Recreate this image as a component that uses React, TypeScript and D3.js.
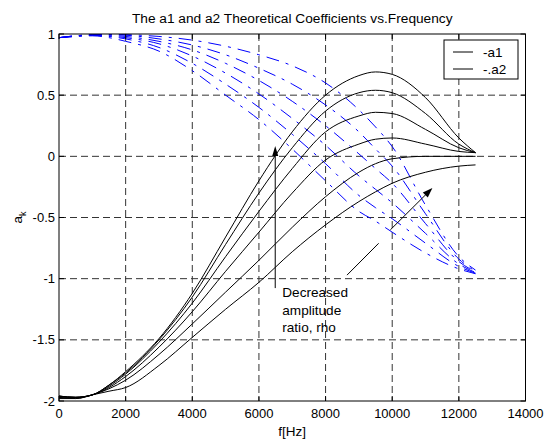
import React from 'react';
import * as d3 from 'd3';

const freqs = [0, 500, 1000, 1500, 2000, 3000, 4000, 5000, 6000, 7000, 8000, 9000, 9500, 10000, 11000, 12000, 12500];

const a1Curve1 = [-1.96, -1.97, -1.95, -1.87, -1.76, -1.49, -1.12, -0.66, -0.2, 0.2, 0.5, 0.66, 0.69, 0.67, 0.48, 0.15, 0.03];
const a1Curve2 = [-1.96, -1.97, -1.95, -1.87, -1.77, -1.5, -1.15, -0.72, -0.3, 0.07, 0.37, 0.52, 0.54, 0.52, 0.35, 0.1, 0.03];
const a1Curve3 = [-1.96, -1.97, -1.95, -1.88, -1.78, -1.52, -1.2, -0.82, -0.45, -0.1, 0.2, 0.33, 0.36, 0.35, 0.22, 0.07, 0.03];
const a1Curve4 = [-1.97, -1.97, -1.95, -1.89, -1.8, -1.56, -1.27, -0.94, -0.62, -0.3, -0.03, 0.1, 0.14, 0.15, 0.1, 0.04, 0.03];
const a1Curve5 = [-1.97, -1.98, -1.95, -1.9, -1.83, -1.62, -1.37, -1.11, -0.85, -0.58, -0.33, -0.13, -0.06, -0.02, 0, 0, 0];
const a1Curve6 = [-1.98, -1.98, -1.95, -1.92, -1.89, -1.71, -1.48, -1.25, -1.03, -0.78, -0.56, -0.37, -0.29, -0.22, -0.13, -0.08, -0.07];

const a2Curve1 = [0.97, 0.985, 0.995, 0.998, 0.995, 0.98, 0.95, 0.9, 0.83, 0.74, 0.6, 0.38, 0.24, 0.08, -0.4, -0.82, -0.93];
const a2Curve2 = [0.97, 0.985, 0.995, 0.995, 0.99, 0.96, 0.91, 0.83, 0.72, 0.59, 0.42, 0.2, 0.06, -0.08, -0.47, -0.84, -0.94];
const a2Curve3 = [0.97, 0.985, 0.99, 0.99, 0.98, 0.94, 0.87, 0.76, 0.62, 0.45, 0.25, 0.02, -0.1, -0.22, -0.55, -0.86, -0.945];
const a2Curve4 = [0.97, 0.985, 0.99, 0.985, 0.97, 0.92, 0.82, 0.68, 0.51, 0.31, 0.09, -0.16, -0.27, -0.38, -0.63, -0.88, -0.95];
const a2Curve5 = [0.97, 0.98, 0.99, 0.98, 0.96, 0.89, 0.76, 0.59, 0.4, 0.18, -0.06, -0.32, -0.42, -0.51, -0.71, -0.9, -0.955];
const a2Curve6 = [0.97, 0.98, 0.985, 0.97, 0.94, 0.86, 0.7, 0.5, 0.3, 0.06, -0.2, -0.45, -0.53, -0.62, -0.79, -0.92, -0.96];

const a1Series = [a1Curve1, a1Curve2, a1Curve3, a1Curve4, a1Curve5, a1Curve6];
const a2Series = [a2Curve1, a2Curve2, a2Curve3, a2Curve4, a2Curve5, a2Curve6];

const xTicks = [0, 2000, 4000, 6000, 8000, 10000, 12000, 14000];
const yTicks = [-2, -1.5, -1, -0.5, 0, 0.5, 1];
const yTickLabels = ['-2', '-1.5', '-1', '-0.5', '0', '0.5', '1'];
const legendLabels = ['-a1', '-.a2'];
const titleText = 'The a1 and a2 Theoretical Coefficients vs.Frequency';
const xLabelText = 'f[Hz]';
const annotationText = ['Decreased', 'amplitude', 'ratio, rho'];

const FONT = '"Liberation Sans", Arial, sans-serif';

export default function App() {
  const W = 550, H = 439;
  const left = 59, right = 525.5, top = 34, bottom = 401;
  const x = d3.scaleLinear().domain([0, 14000]).range([left, right]);
  const y = d3.scaleLinear().domain([-2, 1]).range([bottom, top]);

  const line = d3.line<number>()
    .x((_, i) => x(freqs[i]))
    .y((d) => y(d))
    .curve(d3.curveMonotoneX);

  const gridColor = '#333';
  const tickLen = 5;

  const upX = x(6489);
  const upTop = y(0.084);
  const upBottom = y(-1.077);
  const dl1 = [x(8643), y(-0.971)];
  const dl2 = [x(9593), y(-0.711)];
  const da1 = [x(9944), y(-0.601)];
  const da2 = [x(11206), y(-0.259)];

  const arrowHead = (x1: number, y1: number, x2: number, y2: number, len = 10, half = 3) => {
    const ang = Math.atan2(y2 - y1, x2 - x1);
    const bx = x2 - len * Math.cos(ang);
    const by = y2 - len * Math.sin(ang);
    const px = -Math.sin(ang) * half;
    const py = Math.cos(ang) * half;
    return `${x2},${y2} ${bx + px},${by + py} ${bx - px},${by - py}`;
  };

  return (
    <svg width={W} height={H} style={{ position: 'absolute', left: 0, top: 0, background: '#fff' }} fontFamily={FONT}>
      <rect x={0} y={0} width={W} height={H} fill="#fff" />
      <defs>
        <clipPath id="plotClip">
          <rect x={left} y={top} width={right - left} height={bottom - top} />
        </clipPath>
      </defs>

      <g stroke={gridColor} strokeWidth={1} strokeDasharray="7,4">
        {xTicks.slice(1, -1).map((t) => (
          <line key={'gx' + t} x1={x(t)} x2={x(t)} y1={top} y2={bottom} />
        ))}
        {yTicks.slice(1, -1).map((t) => (
          <line key={'gy' + t} x1={left} x2={right} y1={y(t)} y2={y(t)} />
        ))}
      </g>

      <g clipPath="url(#plotClip)" fill="none">
        {a2Series.map((s, i) => (
          <path key={'a2' + i} d={line(s) || ''} stroke="#0000ff" strokeWidth={1} strokeDasharray="13,7,3,7" />
        ))}
        {a1Series.map((s, i) => (
          <path key={'a1' + i} d={line(s) || ''} stroke="#000" strokeWidth={1} />
        ))}
      </g>

      <rect x={left} y={top} width={right - left} height={bottom - top} fill="none" stroke="#000" strokeWidth={1} />
      <g stroke="#000" strokeWidth={1}>
        {xTicks.map((t) => (
          <g key={'tx' + t}>
            <line x1={x(t)} x2={x(t)} y1={bottom} y2={bottom - tickLen} />
            <line x1={x(t)} x2={x(t)} y1={top} y2={top + tickLen} />
          </g>
        ))}
        {yTicks.map((t) => (
          <g key={'ty' + t}>
            <line x1={left} x2={left + tickLen} y1={y(t)} y2={y(t)} />
            <line x1={right} x2={right - tickLen} y1={y(t)} y2={y(t)} />
          </g>
        ))}
      </g>

      <g fontSize={13} fill="#000">
        {xTicks.map((t) => (
          <text key={'lx' + t} x={x(t)} y={bottom + 17} textAnchor="middle">{String(t)}</text>
        ))}
        {yTicks.map((t, i) => (
          <text key={'ly' + t} x={left - 4} y={y(t) + 4.5} textAnchor="end">{yTickLabels[i]}</text>
        ))}
      </g>

      <text x={(left + right) / 2} y={23} textAnchor="middle" fontSize={13.7} fill="#000">{titleText}</text>
      <text x={(left + right) / 2} y={436} textAnchor="middle" fontSize={13.5} fill="#000">{xLabelText}</text>
      <text transform={`translate(22, ${(top + bottom) / 2}) rotate(-90)`} textAnchor="middle" fontSize={13.5} fill="#000">
        a<tspan fontSize={9} dy={4}>k</tspan>
      </text>

      <g>
        <rect x={444} y={40} width={74} height={39} fill="#fff" stroke="#000" strokeWidth={1} />
        {legendLabels.map((lab, i) => (
          <g key={lab}>
            <line x1={453} x2={473} y1={52 + i * 17} y2={52 + i * 17} stroke="#000" strokeWidth={1} />
            <text x={483} y={56.5 + i * 17} fontSize={13.5} fill="#000">{lab}</text>
          </g>
        ))}
      </g>

      <g stroke="#000" strokeWidth={1} fill="#000">
        <line x1={upX} x2={upX} y1={upBottom} y2={upTop + 8} />
        <polygon points={arrowHead(upX, upBottom, upX, upTop, 10, 3)} stroke="none" />
        <line x1={dl1[0]} y1={dl1[1]} x2={dl2[0]} y2={dl2[1]} />
        <line x1={da1[0]} y1={da1[1]} x2={da2[0] - 6} y2={da2[1] + 6} />
        <polygon points={arrowHead(da1[0], da1[1], da2[0], da2[1], 10, 3.5)} stroke="none" />
      </g>
      <text x={x(6700)} y={y(-1.15)} fontSize={13.6} fill="#000">
        {annotationText.map((t, i) => (
          <tspan key={t} x={x(6700)} dy={i === 0 ? 0 : 17.5}>{t}</tspan>
        ))}
      </text>
    </svg>
  );
}
